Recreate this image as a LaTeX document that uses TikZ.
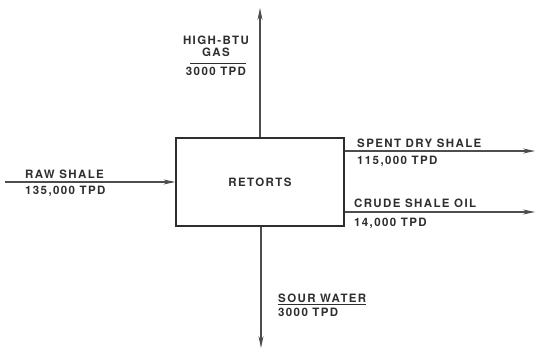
\documentclass[tikz,border=0pt]{standalone}
\usepackage{fontspec}
\setmainfont{TeX Gyre Heros}[LetterSpace=12]
\usepackage{xcolor}
\usepackage{tikz}
\usetikzlibrary{arrows.meta,positioning}

\definecolor{ink}{HTML}{2E2E2E}
\tikzset{
  flow/.style={->, line width=1.2pt, draw=ink!85},
  lbl/.style={font=\bfseries\fontsize{11.5}{12}\selectfont, text=ink, inner sep=0pt}
}

\begin{document}
\begin{tikzpicture}[>={Stealth[length=12pt,width=5pt]}, x=1pt, y=1pt]
  \useasboundingbox (0,0) rectangle (536,357);
  % the retort block
  \node[draw=ink, line width=1.2pt, minimum width=168pt, minimum height=88pt, lbl] (retorts) at (260,175) {RETORTS};
  \coordinate (feed) at (5,175);
  \coordinate (gasout) at (260,349);
  \coordinate (waterout) at (261,9);
  \coordinate (spentout) at (535,206);
  \coordinate (oilout) at (535,145);
  % streams
  \draw[flow] (feed) -- (retorts.west);
  \draw[flow] (retorts.north) -- (gasout);
  \draw[flow] (retorts.south -| waterout) -- (waterout);
  \draw[flow] (retorts.east |- spentout) -- (spentout);
  \draw[flow] (retorts.east |- oilout) -- (oilout);
  % labels
  \node[lbl, anchor=base west] (rawname) at (25,179) {RAW SHALE};
  \node[lbl, anchor=base west] (rawrate) at (25,163) {135,000 TPD};
  \node[lbl, anchor=base, align=center] (gasname) at (216,300) {HIGH-BTU\\[0pt]GAS};
  \node[lbl, anchor=base] (gasrate) at (216,281) {3000 TPD};
  \draw[ink, line width=0.9pt] ([xshift=4pt,yshift=4pt]gasrate.north west) -- ([yshift=4pt]gasrate.north east);
  \node[lbl, anchor=base west] (spentname) at (357,210) {SPENT DRY SHALE};
  \node[lbl, anchor=base west] (spentrate) at (357,193) {115,000 TPD};
  \node[lbl, anchor=base west] (oilname) at (354,150) {CRUDE SHALE OIL};
  \node[lbl, anchor=base west] (oilrate) at (354,131) {14,000 TPD};
  \node[lbl, anchor=base west] (watername) at (278,55) {SOUR WATER};
  \node[lbl, anchor=base west] (waterrate) at (278,41) {3000 TPD};
  \draw[ink, line width=0.9pt] ([yshift=-2pt]watername.south west) -- ([yshift=-2pt]watername.south east);
\end{tikzpicture}
\end{document}
